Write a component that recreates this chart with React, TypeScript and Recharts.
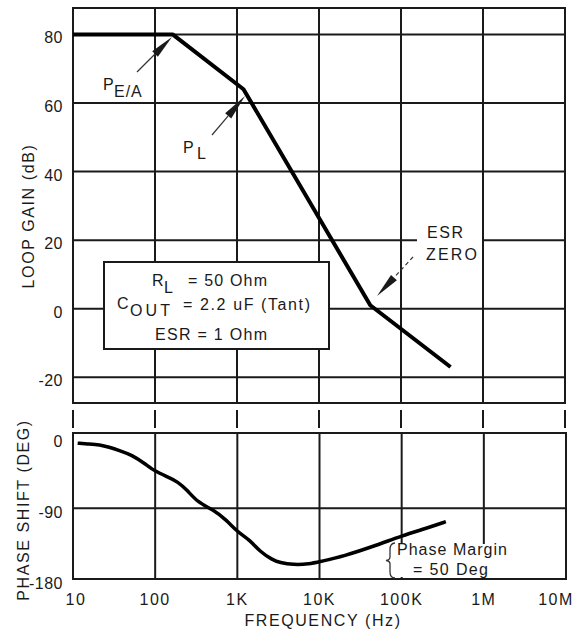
import { CartesianGrid, Line, LineChart, ReferenceArea, ReferenceLine, XAxis, YAxis } from "recharts";

const FONT = "'Liberation Sans', Arial, Helvetica, sans-serif";
const INK = "#1a1a1a";

const FREQ_TICKS = [10, 100, 1e3, 1e4, 1e5, 1e6, 1e7];
const FREQ_LABELS = ["10", "100", "1K", "10K", "100K", "1M", "10M"];

// loop gain, straight-line asymptotes
const GAIN_TICKS = [-20, 0, 20, 40, 60, 80];
const GAIN_FREQ = [10, 164, 1200, 42200, 402000];
const GAIN_DB = [80, 80, 64, 1, -17];

// phase shift
const PHASE_TICKS = [-180, -90, 0];
const PHASE_FREQ = [
  11.4, 15.9, 21, 27.5, 36.3, 52, 75, 100, 143, 188, 247, 325, 514, 740, 1000, 1413, 1870, 2720, 3270, 4770,
  7550, 10000, 19600, 49600, 100000, 205000, 345000,
];
const PHASE_DEG = [
  -7, -8, -9, -12, -16, -22, -33, -43, -50, -56, -67, -82, -92, -105, -120, -130, -145, -156, -159, -162, -161,
  -158, -151, -137, -125, -115, -107,
];

const gainData = GAIN_FREQ.map((f, i) => ({ f, v: GAIN_DB[i] }));
const phaseData = PHASE_FREQ.map((f, i) => ({ f, v: PHASE_DEG[i] }));

const GAIN_DOMAIN: [number, number] = [-27.5, 87.7];
const PHASE_DOMAIN: [number, number] = [-180, 6];

const txt = { fontFamily: FONT, fontSize: 16, fill: INK };
const titleStyle = { fontFamily: FONT, fontSize: 16, fill: INK, letterSpacing: 1.6 };

function SepTick({ x, y }: any) {
  return <line x1={x} x2={x} y1={y} y2={y + 18} stroke={INK} strokeWidth={2} />;
}

function FreqTick({ x, y, payload }: any) {
  const i = FREQ_TICKS.indexOf(payload.value);
  const shift = i === 0 ? 3 : i === FREQ_TICKS.length - 1 ? -10 : 0;
  return (
    <text x={x + shift} y={y + 12} textAnchor="middle" {...txt} letterSpacing={1.5}>
      {FREQ_LABELS[i]}
    </text>
  );
}

function GainTick({ x, y, payload }: any) {
  return (
    <text x={x} y={y + 9} textAnchor="end" {...txt} letterSpacing={0.5}>
      {payload.value}
    </text>
  );
}

function PhaseTick({ x, y, payload }: any) {
  return (
    <text x={x} y={y + 9.5} textAnchor="end" {...txt} letterSpacing={0.5}>
      {payload.value}
    </text>
  );
}

function Arrow({ from, tip, len, hw, dashed }: any) {
  const dx = tip[0] - from[0];
  const dy = tip[1] - from[1];
  const d = Math.hypot(dx, dy);
  const ux = dx / d;
  const uy = dy / d;
  const bx = tip[0] - ux * len;
  const by = tip[1] - uy * len;
  const pts = `${tip[0]},${tip[1]} ${bx - uy * hw},${by + ux * hw} ${bx + uy * hw},${by - ux * hw}`;
  return (
    <g>
      <line
        x1={from[0]}
        y1={from[1]}
        x2={bx}
        y2={by}
        stroke="#333"
        strokeWidth={1.2}
        strokeDasharray={dashed ? "4 3" : undefined}
      />
      <polygon points={pts} fill={INK} />
    </g>
  );
}

function Annotations() {
  return (
    <svg width={575} height={633} style={{ position: "absolute", left: 0, top: 0, pointerEvents: "none" }}>
      {/* P E/A */}
      <Arrow from={[137, 72]} tip={[172, 37]} len={24} hw={4} />
      <text x={103} y={90} {...txt}>P</text>
      <text x={114} y={97} {...txt} letterSpacing={1}>E/A</text>

      {/* P L */}
      <Arrow from={[212, 135]} tip={[245, 96]} len={26} hw={4} />
      <text x={183} y={153} {...txt}>P</text>
      <text x={197} y={159} {...txt}>L</text>

      {/* ESR zero */}
      <rect x={417} y={224} width={65} height={39} fill="#fff" />
      <text x={427} y={238} {...txt} textLength={36} lengthAdjust="spacing">ESR</text>
      <text x={426} y={260} {...txt} textLength={51} lengthAdjust="spacing">ZERO</text>
      <Arrow from={[413, 257]} tip={[377, 296]} len={25} hw={4} dashed />

      {/* parameter box */}
      <rect x={104} y={262} width={225} height={87} fill="#fff" stroke={INK} strokeWidth={2} />
      <text x={152} y={286} {...txt}>R</text>
      <text x={164} y={293} {...txt}>L</text>
      <text x={188} y={286} {...txt} textLength={79} lengthAdjust="spacing">= 50 Ohm</text>
      <text x={117} y={309} {...txt}>C</text>
      <text x={130} y={316} {...txt} textLength={40} lengthAdjust="spacing">OUT</text>
      <text x={183} y={310} {...txt} textLength={127} lengthAdjust="spacing">= 2.2 uF (Tant)</text>
      <text x={155} y={340} {...txt} textLength={112} lengthAdjust="spacing">ESR = 1 Ohm</text>

      {/* phase margin */}
      <rect x={394} y={544} width={118} height={33} fill="#fff" />
      <path
        d="M395,543 Q390,543 390,550 L390,557 Q390,560 386,560.5 Q390,561 390,564 L390,572 Q390,578 395,578"
        fill="none"
        stroke="#333"
        strokeWidth={1.3}
      />
      <text x={397} y={555} {...txt} textLength={110} lengthAdjust="spacing">Phase Margin</text>
      <text x={413} y={575} {...txt} textLength={75} lengthAdjust="spacing">= 50 Deg</text>
    </svg>
  );
}

export default function App() {
  return (
    <div
      style={{
        position: "absolute",
        left: 0,
        top: 0,
        width: 575,
        height: 633,
        background: "#fff",
        overflow: "hidden",
      }}
    >
      <div style={{ position: "absolute", left: 0, top: 0 }}>
        <LineChart width={575} height={430} data={gainData} margin={{ top: 8, right: 10, bottom: 0, left: 0 }}>
          <CartesianGrid stroke={INK} strokeWidth={2} />
          <XAxis
            dataKey="f"
            type="number"
            scale="log"
            domain={[10, 1e7]}
            ticks={FREQ_TICKS}
            allowDataOverflow
            height={27}
            axisLine={false}
            tickLine={false}
            tickSize={0}
            tickMargin={7}
            tick={<SepTick />}
            interval={0}
          />
          <YAxis
            type="number"
            domain={GAIN_DOMAIN}
            ticks={GAIN_TICKS}
            allowDataOverflow
            width={73}
            axisLine={false}
            tickLine={false}
            tickSize={0}
            tickMargin={10}
            tick={<GainTick />}
            interval={0}
            label={{ value: "LOOP GAIN (dB)", angle: -90, position: "center", dx: -8.5, dy: 10.5, style: titleStyle }}
          />
          <ReferenceArea
            x1={10}
            x2={1e7}
            y1={GAIN_DOMAIN[0]}
            y2={GAIN_DOMAIN[1]}
            fill="none"
            stroke={INK}
            strokeWidth={2}
          />
          <Line
            dataKey="v"
            type="linear"
            stroke="#000"
            strokeWidth={4}
            strokeLinejoin="round"
            dot={false}
            isAnimationActive={false}
          />
        </LineChart>
      </div>
      <div style={{ position: "absolute", left: 0, top: 420 }}>
        <LineChart width={575} height={213} data={phaseData} margin={{ top: 13, right: 9, bottom: 0, left: 0 }}>
          <CartesianGrid stroke={INK} strokeWidth={2} horizontal={false} />
          <XAxis
            dataKey="f"
            type="number"
            scale="log"
            domain={[10, 1e7]}
            ticks={FREQ_TICKS}
            allowDataOverflow
            height={54}
            axisLine={false}
            tickLine={false}
            tickSize={0}
            tickMargin={14}
            tick={<FreqTick />}
            interval={0}
            label={{ value: "FREQUENCY (Hz)", position: "insideBottom", offset: 7, dx: 3.5, style: titleStyle }}
          />
          <YAxis
            type="number"
            domain={PHASE_DOMAIN}
            ticks={PHASE_TICKS}
            allowDataOverflow
            width={73}
            axisLine={false}
            tickLine={false}
            tickSize={0}
            tickMargin={10}
            tick={<PhaseTick />}
            interval={0}
            label={{ value: "PHASE SHIFT (DEG)", angle: -90, position: "center", dx: -13.5, dy: 4, style: titleStyle }}
          />
          <ReferenceLine y={-90} stroke={INK} strokeWidth={2} />
          <ReferenceArea
            x1={10}
            x2={1e7}
            y1={PHASE_DOMAIN[0]}
            y2={PHASE_DOMAIN[1]}
            fill="none"
            stroke={INK}
            strokeWidth={2}
          />
          <Line
            dataKey="v"
            type="basis"
            stroke="#000"
            strokeWidth={3.5}
            strokeLinejoin="round"
            dot={false}
            isAnimationActive={false}
          />
        </LineChart>
      </div>
      <Annotations />
    </div>
  );
}
